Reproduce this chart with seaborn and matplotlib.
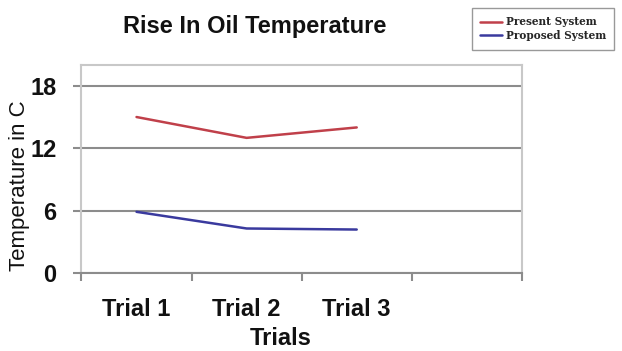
import matplotlib
matplotlib.use("Agg")
import pandas as pd
import matplotlib.pyplot as plt
import seaborn as sns

# values
trials = ["Trial 1", "Trial 2", "Trial 3"]
present_system = [15, 13, 14]
proposed_system = [5.9, 4.3, 4.2]
series_names = ["Present System", "Proposed System"]
y_ticks = [0, 6, 12, 18]

sns.set_theme(style="white")
plt.rcParams['font.family'] = ['Liberation Sans', 'DejaVu Sans']

df = pd.DataFrame({
    "Trials": trials * 2,
    "Temperature": present_system + proposed_system,
    "System": [series_names[0]] * len(trials) + [series_names[1]] * len(trials),
})

fig = plt.figure(figsize=(6.22, 3.51), dpi=100)
fig.patch.set_facecolor('white')
ax = fig.add_axes([0.131, 0.2214, 0.708, 0.5936])

sns.lineplot(data=df, x="Trials", y="Temperature", hue="System",
             palette=['#C0404A', '#3A3A9E'], linewidth=1.8, ax=ax)

ax.set_xlim(-0.5, 3.5)
ax.set_ylim(0, 20)
ax.set_yticks(y_ticks)
ax.set_xticks(range(len(trials)))
ax.set_xticklabels(trials)
ax.set_xticks([i - 0.5 for i in range(5)], minor=True)
ax.yaxis.grid(True, color='#8c8c8c', linewidth=1.5)
ax.set_axisbelow(True)

for side in ['top', 'right', 'left']:
    ax.spines[side].set_color('#c8c8c8')
    ax.spines[side].set_linewidth(1.5)
ax.spines['bottom'].set_color('#8c8c8c')
ax.spines['bottom'].set_linewidth(1.5)

ax.tick_params(axis='y', left=True, length=6, width=1.5, color='#8c8c8c',
               pad=12, labelsize=17)
ax.tick_params(axis='x', which='major', bottom=False, length=0, pad=18, labelsize=17)
ax.tick_params(axis='x', which='minor', bottom=True, length=6, width=1.5, color='#8c8c8c')
for lbl in ax.get_xticklabels() + ax.get_yticklabels():
    lbl.set_fontweight('bold')
    lbl.set_color('#111111')

ax.set_xlabel("Trials", fontsize=17, fontweight='bold', color='#111111', va='center')
ax.xaxis.set_label_coords(0.453, -0.311)
ax.set_ylabel("Temperature in C", fontsize=16, color='#111111', va='center')
ax.yaxis.set_label_coords(-0.14, 0.419)

fig.text(255 / 622, 1 - 27 / 351, "Rise In Oil Temperature", ha='center', va='center',
         fontsize=17, fontweight='bold', color='#111111')

handles, labels = ax.get_legend_handles_labels()
ax.legend(handles, labels, loc='upper left', bbox_to_anchor=(472 / 622, 1 - 8 / 351),
          bbox_transform=fig.transFigure, borderaxespad=0, frameon=True, fancybox=False,
          edgecolor='#999999', framealpha=1, handlelength=2.0, handletextpad=0.4,
          borderpad=0.8, labelspacing=0.25,
          prop={'family': 'DejaVu Serif', 'weight': 'bold', 'size': 7.6})

fig.savefig("out.png", dpi=100, facecolor='white')
